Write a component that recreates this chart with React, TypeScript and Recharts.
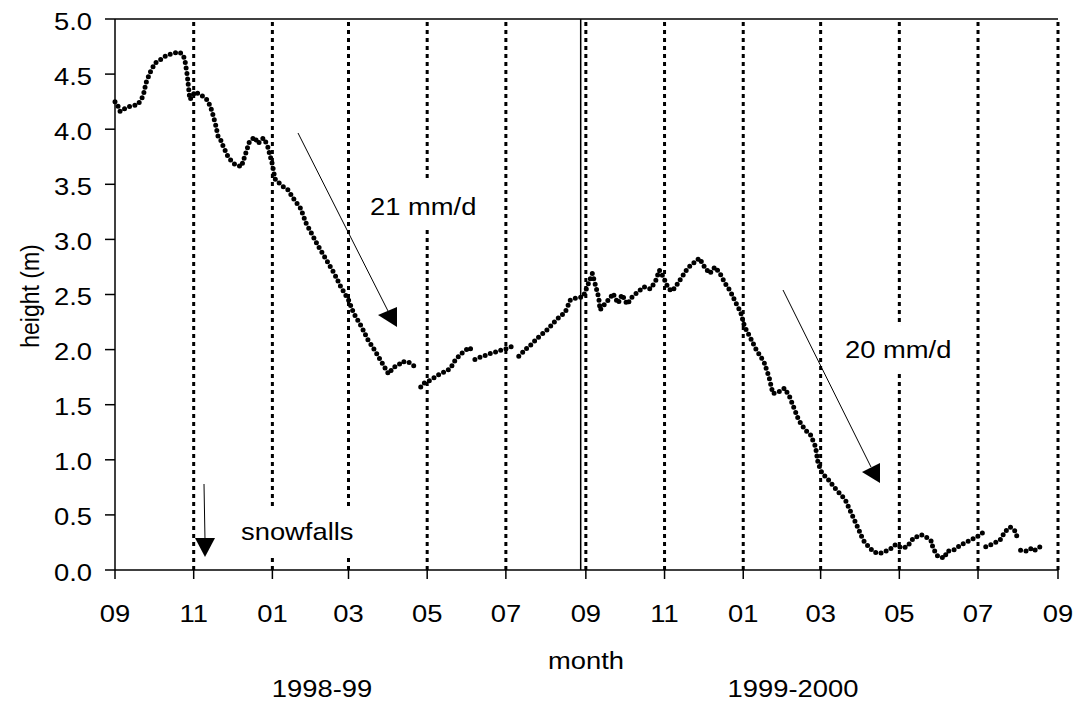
import React from "react";
import { LineChart, Line, XAxis, YAxis, ReferenceLine } from "recharts";

// x values are days since 1 Sep 1998
const monthTickDays = [0, 61, 122, 181, 242, 303, 365, 426, 487, 547, 608, 669, 731];
const monthTickLabels = ["09", "11", "01", "03", "05", "07", "09", "11", "01", "03", "05", "07", "09"];
const heightTicks = [0, 0.5, 1, 1.5, 2, 2.5, 3, 3.5, 4, 4.5, 5];
const seasonBreakDay = 361;

// Sep 1998 – end of Apr 1999
const meltDays98 = [0, 2, 4, 8, 12, 17, 20, 22, 24, 27, 31, 35, 40, 45, 50, 52, 54, 56, 58, 60, 62, 65, 68, 72, 75, 78, 80, 82, 84, 88, 93, 98, 101, 104, 108, 111, 115, 118, 120, 122, 124, 129, 134, 139, 144, 148, 153, 157, 164, 170, 175, 181, 185, 191, 196, 201, 205, 208, 212, 216, 220, 222, 227, 231, 234];
const meltHeights98 = [4.25, 4.22, 4.16, 4.19, 4.21, 4.22, 4.26, 4.31, 4.42, 4.51, 4.6, 4.63, 4.67, 4.69, 4.7, 4.68, 4.64, 4.49, 4.27, 4.3, 4.34, 4.32, 4.3, 4.26, 4.17, 4.04, 3.93, 3.9, 3.84, 3.74, 3.68, 3.66, 3.77, 3.88, 3.93, 3.87, 3.92, 3.86, 3.77, 3.68, 3.55, 3.49, 3.45, 3.36, 3.28, 3.15, 3.04, 2.95, 2.81, 2.69, 2.57, 2.45, 2.33, 2.21, 2.09, 2.0, 1.92, 1.86, 1.78, 1.84, 1.86, 1.89, 1.89, 1.86, 1.83];

// May – Jul 1999 (three records with gaps between them)
const mayDays99 = [237, 240, 244, 248, 252, 256, 260, 264, 270, 275, 277];
const mayHeights99 = [1.66, 1.7, 1.72, 1.75, 1.78, 1.8, 1.83, 1.91, 1.98, 2.02, 1.98];
const juneDays99 = [279, 283, 288, 292, 296, 300, 304, 308, 311];
const juneHeights99 = [1.91, 1.93, 1.95, 1.97, 1.98, 2.0, 2.01, 2.03, 2.04];

// Jul 1999 – Jul 2000
const mainDays = [313, 319, 323, 327, 331, 335, 339, 342, 346, 349, 353, 358, 363, 367, 370, 373, 375, 376, 380, 384, 386, 390, 393, 397, 401, 406, 410, 415, 419, 422, 425, 428, 431, 434, 439, 444, 450, 453, 457, 461, 465, 469, 473, 477, 481, 485, 488, 492, 497, 503, 507, 510, 515, 519, 523, 526, 530, 535, 539, 543, 545, 548, 553, 559, 566, 571, 576, 580, 585, 589, 593, 597, 600, 605, 610, 614, 619, 625, 630, 633, 634, 638, 643, 645, 650, 656, 663, 668, 674];
const mainHeights = [1.94, 2.01, 2.05, 2.1, 2.14, 2.18, 2.23, 2.27, 2.31, 2.34, 2.45, 2.47, 2.48, 2.6, 2.69, 2.56, 2.47, 2.36, 2.42, 2.47, 2.51, 2.42, 2.5, 2.41, 2.48, 2.53, 2.57, 2.55, 2.62, 2.72, 2.66, 2.58, 2.53, 2.56, 2.65, 2.74, 2.8, 2.83, 2.75, 2.69, 2.75, 2.69, 2.6, 2.53, 2.43, 2.34, 2.21, 2.12, 2.0, 1.89, 1.75, 1.6, 1.62, 1.65, 1.57, 1.48, 1.36, 1.27, 1.23, 1.12, 0.97, 0.88, 0.82, 0.73, 0.64, 0.51, 0.38, 0.27, 0.2, 0.16, 0.15, 0.17, 0.18, 0.23, 0.2, 0.21, 0.29, 0.32, 0.29, 0.26, 0.2, 0.12, 0.11, 0.17, 0.18, 0.23, 0.27, 0.3, 0.35];

// Jul – Aug 2000
const julyDays00 = [675, 681, 686, 690, 694, 698, 700];
const julyHeights00 = [0.21, 0.24, 0.27, 0.35, 0.39, 0.35, 0.27];
const augDays00 = [702, 707, 711, 713, 717];
const augHeights00 = [0.18, 0.17, 0.2, 0.18, 0.21];

const runs: [number[], number[]][] = [
  [meltDays98, meltHeights98],
  [mayDays99, mayHeights99],
  [juneDays99, juneHeights99],
  [mainDays, mainHeights],
  [julyDays00, julyHeights00],
  [augDays00, augHeights00],
];

// one table, with a null row between records so the line breaks
const data: { day: number; h: number | null }[] = [];
runs.forEach(([ds, hs], i) => {
  if (i > 0) data.push({ day: ds[0] - 0.5, h: null });
  ds.forEach((d, j) => data.push({ day: d, h: hs[j] }));
});

const FONT = "'Liberation Sans', Arial, Helvetica, sans-serif";
const SX = 1.14; // the picture's text is a little wider than tall

function XTick(props: any) {
  const { x, y, payload } = props;
  const label = monthTickLabels[monthTickDays.indexOf(payload.value)];
  return (
    <text
      transform={`translate(${x},${y}) scale(${SX},1)`}
      textAnchor="middle"
      dy="0.71em"
      fontSize={24}
      fontFamily={FONT}
      fill="#000"
    >
      {label}
    </text>
  );
}

function YTick(props: any) {
  const { x, y, payload } = props;
  return (
    <text
      transform={`translate(${x},${y}) scale(${SX},1)`}
      textAnchor="end"
      dy="0.44em"
      fontSize={24}
      fontFamily={FONT}
      fill="#000"
    >
      {Number(payload.value).toFixed(1)}
    </text>
  );
}

function Label({ x, y, text, anchor = "start" }: { x: number; y: number; text: string; anchor?: string }) {
  return (
    <text
      transform={`translate(${x},${y}) scale(${SX},1)`}
      textAnchor={anchor}
      fontSize={24}
      fontFamily={FONT}
      fill="#000"
    >
      {text}
    </text>
  );
}

export default function App() {
  return (
    <div style={{ position: "absolute", left: 0, top: 0, width: 1075, height: 702, background: "#fff" }}>
      <LineChart width={1075} height={702} data={data} margin={{ top: 19, right: 17, bottom: 0, left: 0 }}>
        <XAxis
          dataKey="day"
          type="number"
          domain={[0, 731]}
          ticks={monthTickDays}
          interval={0}
          height={132}
          tickSize={9}
          tickMargin={26}
          tick={<XTick />}
          axisLine={{ stroke: "#000", strokeWidth: 1.5 }}
          tickLine={{ stroke: "#000", strokeWidth: 1.5 }}
        />
        <YAxis
          type="number"
          domain={[0, 5]}
          ticks={heightTicks}
          interval={0}
          width={115}
          tickSize={10}
          tickMargin={13}
          tick={<YTick />}
          axisLine={{ stroke: "#000", strokeWidth: 1.5 }}
          tickLine={{ stroke: "#000", strokeWidth: 1.5 }}
          allowDataOverflow
        />
        <ReferenceLine y={5} stroke="#000" strokeWidth={1.5} />
        {monthTickDays.slice(1).map((d) => (
          <ReferenceLine key={d} x={d} stroke="#000" strokeWidth={3} strokeDasharray="4 4" />
        ))}
        <ReferenceLine x={seasonBreakDay} stroke="#000" strokeWidth={1.5} />
        <Line
          dataKey="h"
          type="linear"
          stroke="#000"
          strokeWidth={5}
          strokeDasharray="0 5.5"
          strokeLinecap="round"
          dot={false}
          activeDot={false}
          connectNulls={false}
          isAnimationActive={false}
        />
      </LineChart>
      <svg
        width={1075}
        height={702}
        style={{ position: "absolute", left: 0, top: 0, pointerEvents: "none" }}
      >
        <rect x={237} y={507} width={124} height={49} fill="#fff" />
        <rect x={364} y={181} width={117} height={46} fill="#fff" />
        <rect x={839} y={325} width={117} height={48} fill="#fff" />

        <Label x={241} y={540} text="snowfalls" />
        <Label x={370} y={215} text="21 mm/d" />
        <Label x={845} y={358} text="20 mm/d" />
        <Label x={586} y={669} text="month" anchor="middle" />
        <Label x={322} y={697} text="1998-99" anchor="middle" />
        <Label x={793} y={697} text="1999-2000" anchor="middle" />
        <text
          transform={`translate(39,296) rotate(-90) scale(1,${SX})`}
          textAnchor="middle"
          fontSize={23}
          fontFamily={FONT}
          fill="#000"
        >
          height (m)
        </text>

        <line x1={204} y1={484} x2={205} y2={540} stroke="#000" strokeWidth={1} />
        <polygon points="195,538 215,538 205,557" fill="#000" />
        <line x1={298} y1={133} x2={388} y2={311} stroke="#000" strokeWidth={1} />
        <polygon points="378,315 397,307 397,327" fill="#000" />
        <line x1={783} y1={290} x2={871} y2={467} stroke="#000" strokeWidth={1} />
        <polygon points="862,472 880,463 880,483" fill="#000" />
      </svg>
    </div>
  );
}
